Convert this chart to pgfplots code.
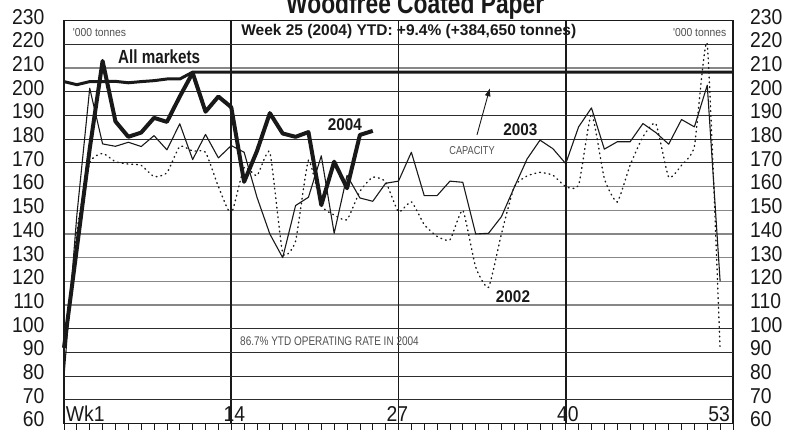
\documentclass[border=0pt]{standalone}
\usepackage{pgfplots}
\usepackage{pgfplotstable}
\pgfplotsset{compat=1.18}
\usepackage{fontspec}
\setmainfont{Liberation Sans}
\newfontfamily\fA{Liberation Sans}[FakeStretch=0.8]
\newfontfamily\fB{Liberation Sans}[FakeStretch=0.9]
\usetikzlibrary{arrows.meta}
\definecolor{ink}{RGB}{25,25,25}
\definecolor{lightrule}{RGB}{135,135,135}
\definecolor{darkrule}{RGB}{45,45,45}
\definecolor{note}{RGB}{80,80,80}
\newcommand\fs[1]{\fontsize{#1}{#1}\selectfont}

% weekly output, '000 tonnes
\pgfplotstableread{
week y2002 y2003
1  88    80
2  141   148
3  170   201.5
4  174   178
5  170.5 177
6  169.5 178.7
7  169   176.9
8  164.2 181.5
9  165.8 175.5
10 177   186.5
11 175   171.4
12 174.5 182
13 160   172.1
14 148.6 177.3
15 168   174.5
16 164.6 155.5
17 174.5 140
18 132   130
19 137   152
20 171   155.5
21 152   173
22 148   140.3
23 146   164.7
24 158   155.2
25 164   153.8
26 162   161.4
27 149.4 162.3
28 153.6 174.5
29 144   156.2
30 139   156.2
31 137.5 162.3
32 150   161.8
33 126   140
34 117.5 140.3
35 140   147.3
36 160   159.7
37 164.5 171.7
38 166   179.6
39 164.8 176
40 160   169.7
41 160.6 185.2
42 190.8 193.2
43 163.4 175.8
44 153.5 178.9
45 169   178.9
46 181   186.6
47 186.6 182.8
48 164   177.9
49 169   188.3
50 177   185.2
51 220   202.8
52 91    120
}\tabpast

\pgfplotstableread{
week y2004
1  92
2  134
3  176
4  213
5  187.5
6  181
7  182.8
8  189
9  187.3
10 198
11 208
12 191.6
13 198
14 193.5
15 162
16 175
17 191
18 182.4
19 181
20 183
21 152.2
22 170.5
23 159.3
24 181.8
25 183.5
}\tabnow

\begin{document}
\begin{tikzpicture}
\begin{axis}[
  at={(0,0)}, anchor=south west,
  scale only axis, width=669pt, height=402.9pt,
  xmin=1, xmax=53, ymin=60, ymax=230,
  xtick={1,...,53}, xticklabels={},
  xtick pos=left, tick align=outside, major tick length=7pt,
  tick style={ink, line width=0.8pt},
  ytick={60,70,...,230}, ytick pos=left, ytick style={draw=none},
  ymajorgrids, major grid style={lightrule, line width=1.2pt},
  extra y ticks={70,80,90,100,170,180,190,200,220}, extra y tick labels={},
  extra y tick style={grid=major, major grid style={darkrule, line width=0.9pt}},
  extra x ticks={14,27,40}, extra x tick labels={},
  extra x tick style={grid=major, major grid style={ink, line width=1.6pt}},
  axis line style={ink, line width=1.2pt},
  yticklabel style={font=\fB\fs{21.5}, text=ink, anchor=east, inner sep=0pt, xshift=-12.5pt, yshift=4pt},
  /pgf/number format/assume math mode=true,
  clip=false,
]
% 2002
\addplot[ink, line width=1.4pt, line cap=round, dash pattern=on 0.8pt off 4pt, smooth, tension=0.3]
  table[x=week, y=y2002] {\tabpast};
% 2003
\addplot[ink, line width=1.1pt, line join=round] table[x=week, y=y2003] {\tabpast};
% capacity
\addplot[ink, line width=3pt] coordinates {
  (1,204.3) (2,203) (3,204.3) (4,204.3) (5,204.4) (6,203.8) (7,204.3)
  (8,204.7) (9,205.4) (10,205.4) (11,208.3) (53,208.3)};
% 2004
\addplot[ink, line width=4pt, line join=round] table[x=week, y=y2004] {\tabnow};

\node[font=\fA\bfseries\fs{28.5}, text=ink, anchor=base] at (28.3,233.1) {Woodfree Coated Paper};
\node[font=\fB\fs{11.5}, text=note, anchor=west, inner sep=0pt] at (1.68,224.8) {'000 tonnes};
\node[font=\fB\fs{11.5}, text=note, anchor=east, inner sep=0pt] at (52.49,224.8) {'000 tonnes};
\node[font=\bfseries\fs{15.5}, text=ink] at (27.8,225.3) {Week 25 (2004) YTD: +9.4\% (+384,650 tonnes)};
\node[font=\fA\bfseries\fs{19}, text=ink] at (8.4,214.8) {All markets};
\node[font=\fB\bfseries\fs{17}, text=ink] at (22.83,186) {2004};
\node[font=\fB\bfseries\fs{17}, text=ink] at (36.47,184.2) {2003};
\node[font=\fB\bfseries\fs{17}, text=ink] at (35.9,113.5) {2002};
\node[font=\fA\fs{11.5}, text=note] at (32.72,175.3) {CAPACITY};
\node[font=\fA\fs{12.5}, text=note, anchor=west, inner sep=0pt] at (14.68,94.6) {86.7\% YTD OPERATING RATE IN 2004};
\draw[ink, line width=0.9pt, -{Latex[length=8pt,width=6pt]}] (33.1,181.8) -- (34.1,201.5);

\node[font=\fB\fs{21.5}, text=ink, anchor=base west, inner sep=0pt] at (1.13,60.85) {Wk1};
\node[font=\fB\fs{21.5}, text=ink, anchor=base, inner sep=0pt] at (14.25,60.85) {14};
\node[font=\fB\fs{21.5}, text=ink, anchor=base, inner sep=0pt] at (26.91,60.85) {27};
\node[font=\fB\fs{21.5}, text=ink, anchor=base, inner sep=0pt] at (40.16,60.85) {40};
\node[font=\fB\fs{21.5}, text=ink, anchor=base east, inner sep=0pt] at (52.77,60.85) {53};
\end{axis}

% right-hand scale
\begin{axis}[
  at={(0,0)}, anchor=south west,
  scale only axis, width=669pt, height=402.9pt,
  xmin=1, xmax=53, ymin=60, ymax=230,
  axis x line=none, axis y line*=right,
  axis line style={draw=none},
  ytick={60,70,...,230}, ytick style={draw=none}, major tick length=0pt,
  yticklabel style={font=\fB\fs{21.5}, text=ink, anchor=west, inner sep=0pt, xshift=17pt, yshift=4pt},
  /pgf/number format/assume math mode=true,
]
\end{axis}

\pgfresetboundingbox
\path[use as bounding box] (-64pt,-6.4pt) rectangle (732pt,423.6pt);
\end{tikzpicture}
\end{document}
